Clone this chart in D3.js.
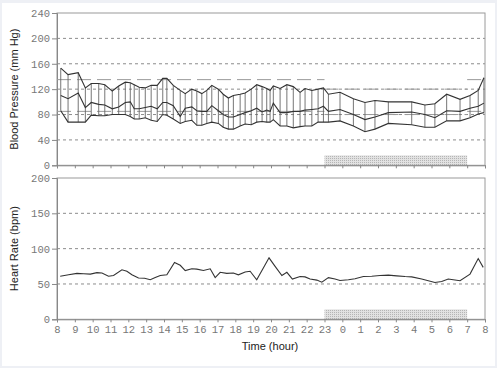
<!DOCTYPE html>
<html><head><meta charset="utf-8">
<script src="https://cdn.jsdelivr.net/npm/d3@7"></script>
<style>
html,body{margin:0;padding:0;background:#eef0f5;}
svg{display:block;}
</style></head>
<body>
<svg id="c" width="497" height="368"></svg>
<script>
// ---- data ----
const hourTicks = d3.range(8, 33); // 8 .. 32 (32 = 8 next day)
const hourLabels = hourTicks.map(h => String(h % 24));
const bpTicks = [0, 40, 80, 120, 160, 200, 240];
const hrTicks = [0, 50, 100, 150, 200];

const bpTimes = [8.21, 8.62, 9.19, 9.59, 9.92, 10.34, 10.68, 11.10, 11.46, 11.83, 12.11, 12.33, 12.61, 12.95, 13.28, 13.62, 13.93, 14.16, 14.52, 14.91, 15.19, 15.56, 15.84, 16.12, 16.40, 16.68, 17.05, 17.32, 17.61, 17.89, 18.27, 18.55, 18.89, 19.20, 19.50, 19.76, 19.95, 20.13, 20.51, 20.89, 21.25, 21.63, 21.91, 22.29, 22.64, 22.94, 23.22, 23.87, 24.62, 25.27, 25.83, 26.58, 27.89, 28.63, 29.19, 29.85, 30.60, 31.16, 31.62, 31.94];
const systolic = [153, 143, 146, 122, 129, 129, 127, 117, 125, 131, 130, 127, 123, 122, 126, 126, 137, 137, 126, 118, 113, 120, 117, 113, 118, 126, 120, 112, 106, 110, 112, 114, 120, 127, 124, 121, 118, 125, 121, 127, 124, 115, 121, 118, 120, 122, 112, 115, 105, 99, 102, 100, 100, 95, 97, 112, 104, 110, 118, 138];
const meanBP = [110, 105, 114, 91, 99, 96, 95, 89, 92, 99, 100, 89, 89, 91, 93, 89, 99, 99, 94, 77, 90, 92, 86, 85, 85, 94, 86, 80, 76, 76, 80, 83, 86, 90, 84, 87, 85, 98, 83, 83, 85, 85, 87, 88, 89, 93, 85, 88, 80, 72, 76, 83, 84, 80, 75, 86, 85, 90, 93, 98];
const diastolic = [86, 68, 68, 68, 79, 78, 78, 80, 80, 80, 77, 73, 73, 75, 71, 69, 80, 79, 73, 66, 69, 71, 63, 63, 66, 68, 66, 60, 57, 57, 62, 65, 64, 68, 69, 68, 68, 72, 62, 62, 59, 61, 62, 62, 68, 68, 68, 70, 62, 53, 57, 66, 64, 60, 60, 70, 70, 75, 81, 83];

const hrTimes = [8.18, 8.65, 9.12, 9.49, 9.87, 10.24, 10.52, 10.89, 11.17, 11.64, 11.92, 12.20, 12.57, 12.91, 13.23, 13.51, 13.79, 14.16, 14.59, 14.91, 15.19, 15.56, 15.84, 16.21, 16.59, 16.87, 17.15, 17.52, 17.89, 18.17, 18.55, 18.83, 19.20, 19.57, 19.89, 20.23, 20.61, 20.89, 21.20, 21.63, 21.91, 22.19, 22.57, 22.85, 23.22, 23.59, 23.87, 24.34, 24.71, 25.18, 25.65, 26.11, 26.58, 27.05, 27.52, 27.89, 28.45, 29.19, 29.57, 29.94, 30.22, 30.60, 31.16, 31.62, 31.90];
const heartRate = [61, 63, 65, 64.5, 64, 66, 65.5, 61, 62, 70, 68, 63, 58.5, 58, 56, 59, 62, 63, 80.5, 76.5, 69, 71.5, 71, 69, 71.5, 59, 66.5, 65, 65.5, 63, 67, 68, 56, 72.5, 87, 75, 62, 66.5, 57, 60.5, 60, 57, 55.5, 52.5, 59, 57, 55, 56, 57.5, 60.5, 61, 62, 62.5, 61.5, 60.5, 60, 57, 52, 53.5, 57, 56, 54.5, 64, 86, 73.5];

// limits: [start hour, end hour, value]
const dayLimitSys = [[8, 23, 135], [31, 32, 135]];
const dayLimitDia = [[8, 23, 85], [31, 32, 85]];
const nightLimitSys = [[23, 31, 120]];
const nightLimitDia = [[23, 31, 80]];
const sleepPeriod = [23, 31];

// ---- layout ----
const svg = d3.select("#c");
svg.append("rect").attr("x", 2).attr("y", 3).attr("width", 493).attr("height", 363).attr("fill", "#fff");

const defs = svg.append("defs");
const pat = defs.append("pattern").attr("id", "dots").attr("width", 2).attr("height", 2).attr("patternUnits", "userSpaceOnUse");
pat.append("rect").attr("width", 2).attr("height", 2).attr("fill", "#e2e2e2");
pat.append("rect").attr("width", 1).attr("height", 1).attr("fill", "#b5b5b5");

const L = 57, R = 485;
const x = d3.scaleLinear().domain([8, 32]).range([L, R]);
const yBP = d3.scaleLinear().domain([0, 240]).range([165.3, 13]);
const yHR = d3.scaleLinear().domain([0, 200]).range([319.3, 178]);

const monoFont = "'Liberation Mono', 'DejaVu Sans Mono', monospace";
const sansFont = "'Liberation Sans', Arial, sans-serif";

function panel(y, ticks, showLabels) {
  const g = svg.append("g");
  // grid
  ticks.filter(t => t > 0 && t < y.domain()[1]).forEach(t => {
    g.append("line").attr("x1", L).attr("x2", R).attr("y1", y(t)).attr("y2", y(t))
      .attr("stroke", "#8c8c8c").attr("stroke-width", 1).attr("stroke-dasharray", "3,3");
  });
  // sleep bar
  g.append("rect").attr("x", x(sleepPeriod[0])).attr("width", x(sleepPeriod[1]) - x(sleepPeriod[0]))
    .attr("y", y(0) - 10).attr("height", 10).attr("fill", "url(#dots)");
  // frame
  g.append("rect").attr("x", L).attr("y", y.range()[1]).attr("width", R - L).attr("height", y.range()[0] - y.range()[1])
    .attr("fill", "none").attr("stroke", "#9a9a9a").attr("stroke-width", 1);
  // y axis
  const ya = g.append("g").attr("transform", `translate(${L},0)`)
    .call(d3.axisLeft(y).tickValues(ticks).tickSize(5).tickPadding(2).tickFormat(d3.format("d")));
  ya.select(".domain").attr("stroke", "#888");
  ya.selectAll(".tick line").attr("stroke", "#888");
  ya.selectAll(".tick text").attr("fill", "#777").style("font-family", monoFont).style("font-size", "10.5px");
  // x axis
  const xa = g.append("g").attr("transform", `translate(0,${y(0)})`)
    .call(d3.axisBottom(x).tickValues(hourTicks).tickSize(3).tickPadding(3)
      .tickFormat((d, i) => showLabels ? hourLabels[i] : ""));
  xa.select(".domain").attr("stroke", "#888");
  xa.selectAll(".tick line").attr("stroke", "#888");
  xa.selectAll(".tick text").attr("fill", "#777").style("font-family", monoFont).style("font-size", "10.5px");
  return g;
}

const gBP = panel(yBP, bpTicks, false);
const gHR = panel(yHR, hrTicks, true);

// limit lines
function limits(arr) {
  arr.forEach(([a, b, v]) => {
    gBP.append("line").attr("x1", x(a)).attr("x2", x(b)).attr("y1", yBP(v)).attr("y2", yBP(v))
      .attr("stroke", "#9a9a9a").attr("stroke-width", 1).attr("stroke-dasharray", "14,6");
  });
}
limits(dayLimitSys); limits(dayLimitDia); limits(nightLimitSys); limits(nightLimitDia);

// vertical range lines
gBP.selectAll("line.rng").data(bpTimes).join("line").attr("class", "rng")
  .attr("x1", d => x(d)).attr("x2", d => x(d))
  .attr("y1", (d, i) => yBP(systolic[i])).attr("y2", (d, i) => yBP(diastolic[i]))
  .attr("stroke", "#666").attr("stroke-width", 0.9);

function bpLine(vals) {
  const ln = d3.line().x((d, i) => x(bpTimes[i])).y(d => yBP(d));
  gBP.append("path").attr("d", ln(vals)).attr("fill", "none").attr("stroke", "#333").attr("stroke-width", 1.1);
}
bpLine(systolic); bpLine(meanBP); bpLine(diastolic);

const hrLine = d3.line().x((d, i) => x(hrTimes[i])).y(d => yHR(d));
gHR.append("path").attr("d", hrLine(heartRate)).attr("fill", "none").attr("stroke", "#333").attr("stroke-width", 1.1);

// titles
svg.append("text").attr("transform", `translate(18,${(yBP(0) + yBP(240)) / 2}) rotate(-90)`)
  .attr("text-anchor", "middle").style("font-family", sansFont).style("font-size", "11px").attr("fill", "#222")
  .text("Blood Pressure (mm Hg)");
svg.append("text").attr("transform", `translate(18,${(yHR(0) + yHR(200)) / 2}) rotate(-90)`)
  .attr("text-anchor", "middle").style("font-family", sansFont).style("font-size", "11px").attr("fill", "#222")
  .text("Heart Rate (bpm)");
svg.append("text").attr("x", 270).attr("y", 350).attr("text-anchor", "middle")
  .style("font-family", sansFont).style("font-size", "11px").attr("fill", "#222").text("Time (hour)");
</script>
</body></html>
